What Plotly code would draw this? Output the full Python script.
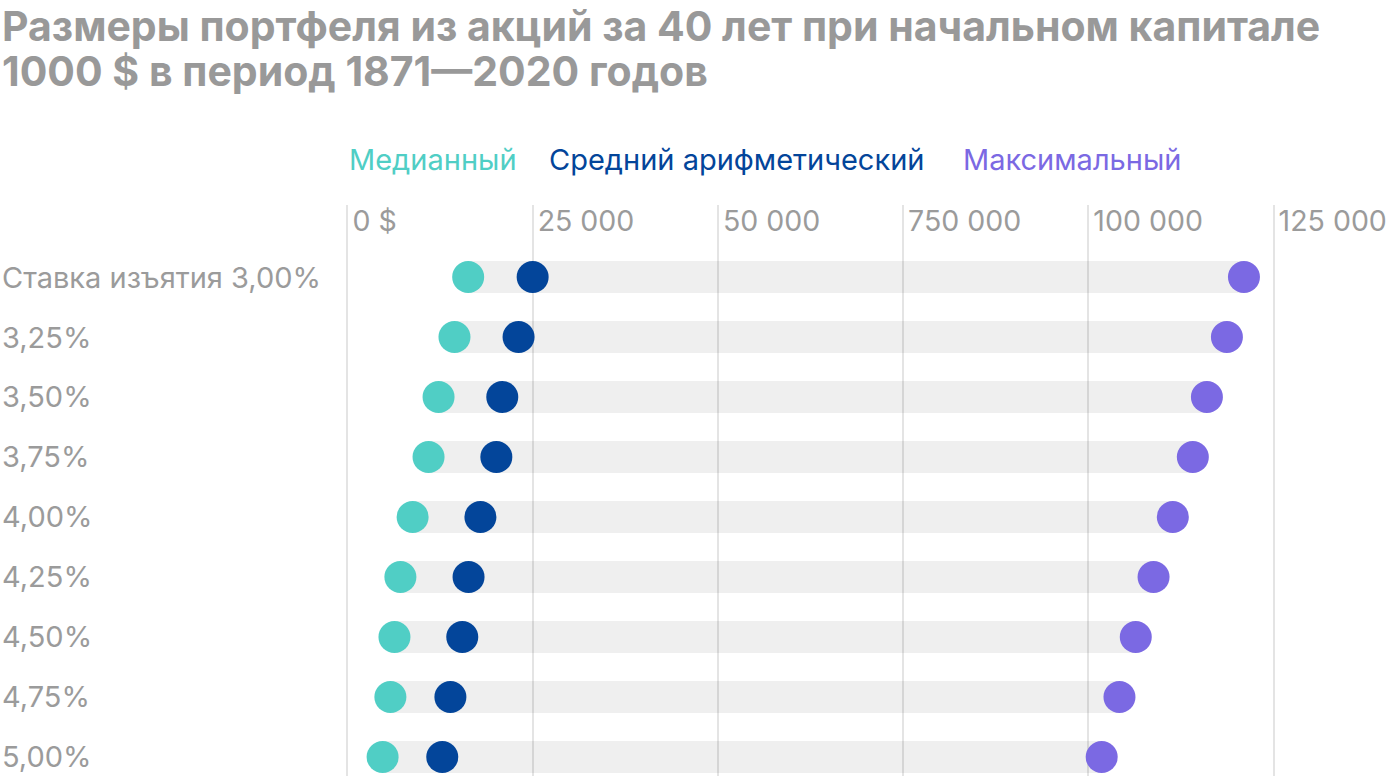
import plotly.graph_objects as go

categories = ["Ставка изъятия 3,00%", "3,25%", "3,50%", "3,75%", "4,00%",
              "4,25%", "4,50%", "4,75%", "5,00%"]
median_vals = [16300, 14450, 12300, 10950, 8800, 7150, 6350, 5800, 4750]
mean_vals = [25000, 23100, 20900, 20100, 17950, 16350, 15500, 13900, 12800]
max_vals = [121000, 118700, 116000, 114100, 111400, 108800, 106400, 104200, 101800]
series_names = ["Медианный", "Средний арифметический", "Максимальный"]
series_colors = ["#50CEC5", "#03459A", "#7B69E3"]
tick_vals = [0, 25000, 50000, 75000, 100000, 125000]
tick_text = ["0 $", "25 000", "50 000", "750 000", "100 000", "125 000"]
title_lines = ["Размеры портфеля из акций за 40 лет при начальном капитале",
               "1000 $ в период 1871—2020 годов"]

W, H = 1400, 776
ML, MR, MT, MB = 340, 119, 205, 0
PW = W - ML - MR
PH = H - MT - MB
FONT = "Inter"
GRAY = "#9B9B9B"

fig = go.Figure()

# gray range bars from median to max
fig.add_trace(go.Bar(
    y=categories,
    x=[mx - md for mx, md in zip(max_vals, median_vals)],
    base=median_vals,
    orientation="h",
    width=0.53,
    marker=dict(color="rgba(0,0,0,0.063)", line=dict(width=0)),
    hoverinfo="skip",
    showlegend=False,
))

for name, vals, col in zip(series_names, [median_vals, mean_vals, max_vals], series_colors):
    fig.add_trace(go.Scatter(
        y=categories, x=vals, mode="markers", name=name,
        marker=dict(size=32, color=col, line=dict(width=0)),
        showlegend=False,
    ))

annotations = []
for c in categories:
    annotations.append(dict(
        xref="paper", yref="y", x=-ML / PW, y=c, text=c,
        xanchor="left", yanchor="middle", showarrow=False,
        font=dict(family=FONT, size=29, color=GRAY),
    ))

legend_px = [347, 547, 961]
for name, col, px in zip(series_names, series_colors, legend_px):
    annotations.append(dict(
        xref="paper", yref="paper", x=(px - ML) / PW, y=(H - MB - 160) / PH,
        text=name, xanchor="left", yanchor="middle", showarrow=False,
        font=dict(family=FONT, size=29, color=col),
    ))

for line, py in zip(title_lines, [26, 71]):
    annotations.append(dict(
        xref="paper", yref="paper", x=-ML / PW, y=(H - MB - py) / PH,
        text=line, xanchor="left", yanchor="middle", showarrow=False,
        font=dict(family=FONT, size=41, color="#999999", weight=700),
    ))

fig.update_layout(
    width=W, height=H,
    margin=dict(l=ML, r=MR, t=MT, b=MB, pad=0, autoexpand=False),
    paper_bgcolor="white", plot_bgcolor="white",
    barmode="overlay",
    xaxis=dict(
        range=[-1000, 126000], side="top",
        tickvals=tick_vals, ticktext=tick_text,
        ticklabelposition="inside right", ticklabeloverflow="allow",
        ticklabelshift=5,
        showgrid=True, gridcolor="#E4E4E4", gridwidth=2,
        zeroline=False, showline=False, ticks="",
        tickfont=dict(family=FONT, size=28.5, color=GRAY),
    ),
    yaxis=dict(
        range=[8.317, -1.2], showticklabels=False, showgrid=False,
        zeroline=False, showline=False, ticks="",
    ),
    annotations=annotations,
)

fig.write_html("out.html", config={"displayModeBar": False},
               post_script="document.body.style.margin='0';")
